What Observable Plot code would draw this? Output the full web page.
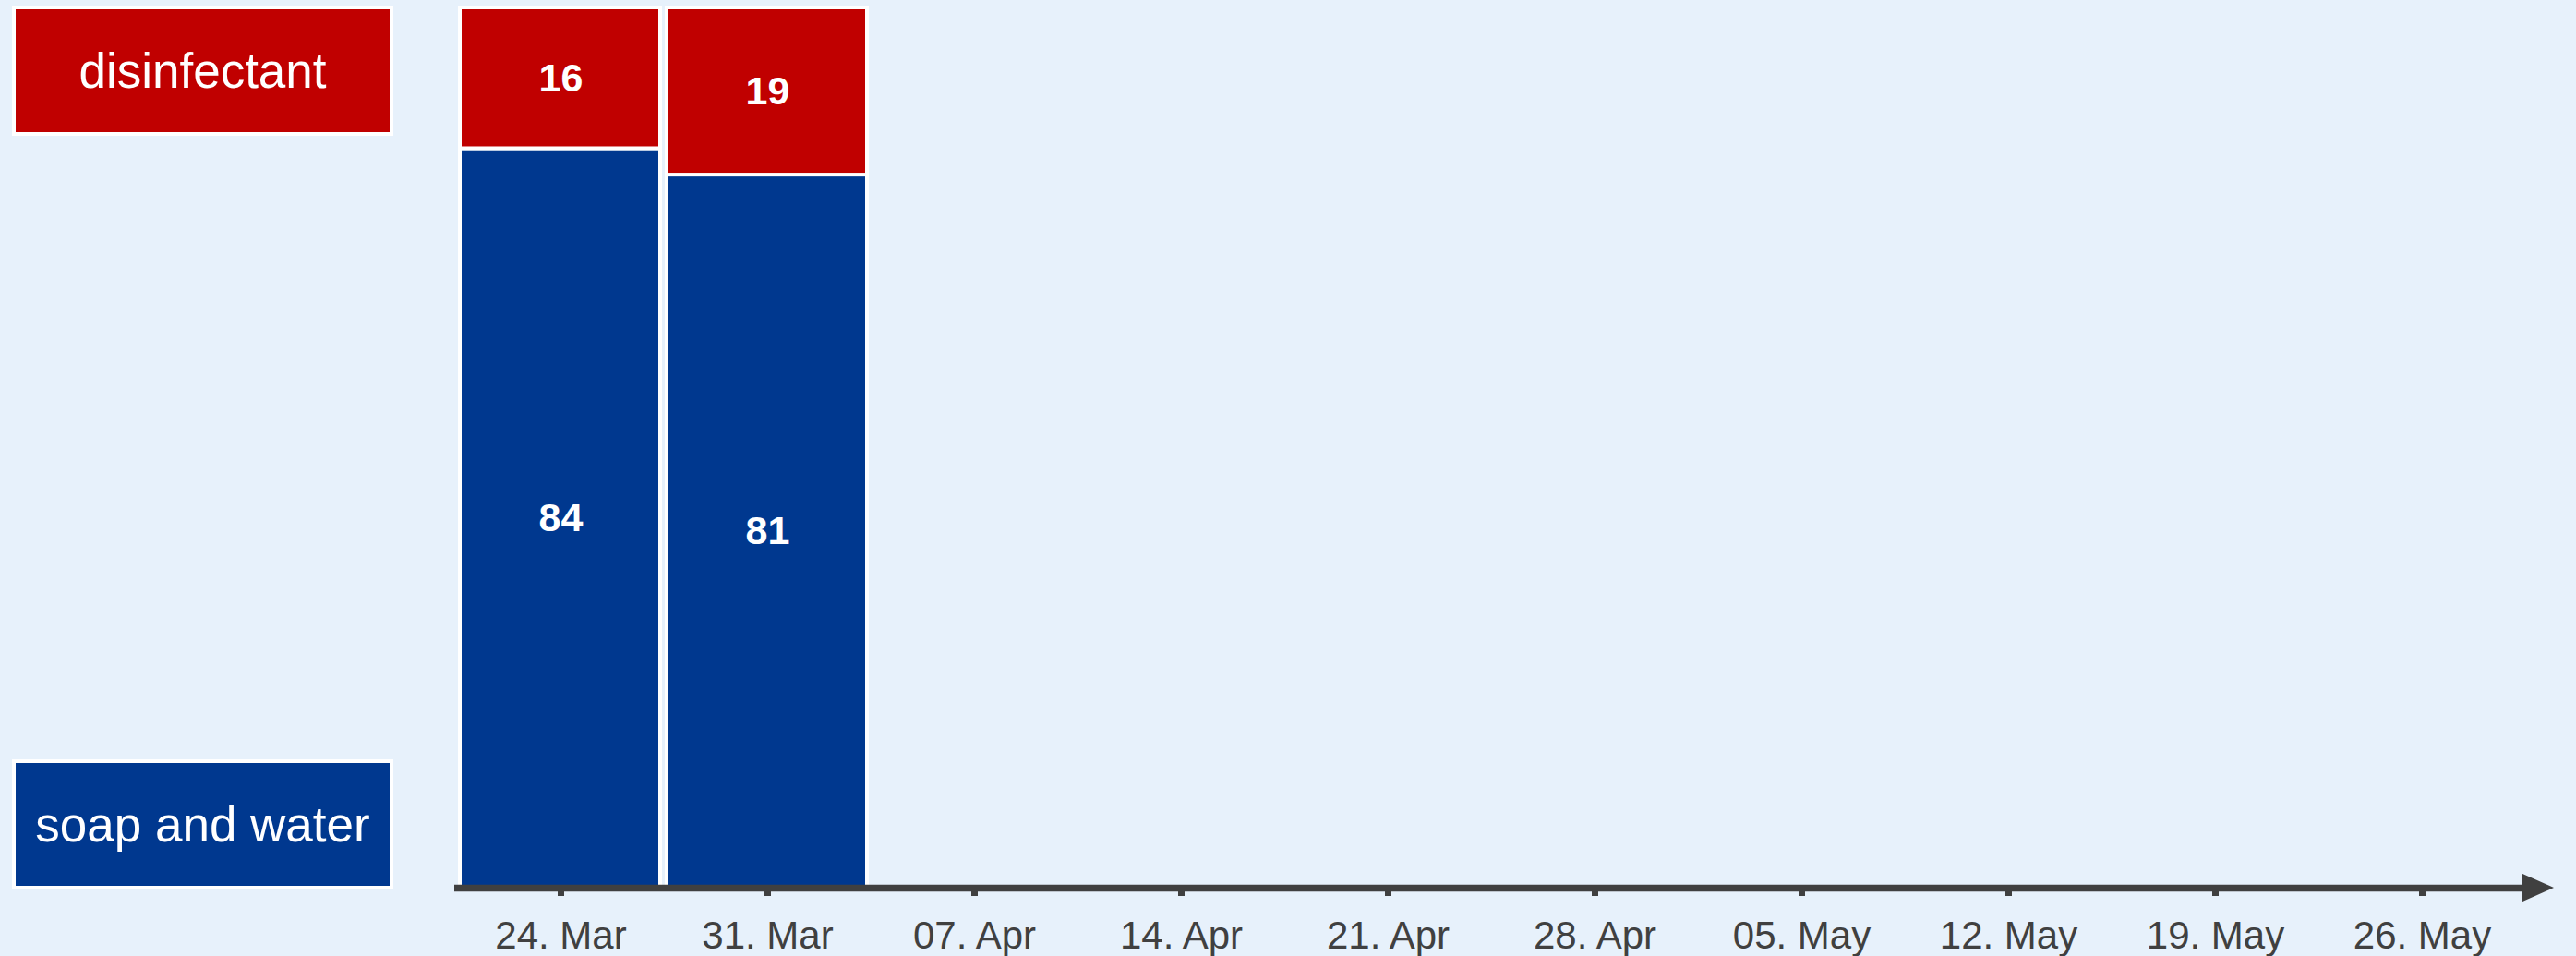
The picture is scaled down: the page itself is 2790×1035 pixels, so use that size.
<!DOCTYPE html>
<html>
<head>
<meta charset="utf-8">
<script src="https://cdn.jsdelivr.net/npm/d3@7"></script>
<script src="https://cdn.jsdelivr.net/npm/@observablehq/plot@0.6"></script>
<style>
  html, body { margin: 0; padding: 0; background: #E7F1FB; }
  body { width: 2790px; height: 1035px; position: relative; overflow: hidden;
         font-family: "Liberation Sans", Arial, Helvetica, sans-serif; }
  #chart { position: absolute; left: 0; top: 0; }
  .legend-box { position: absolute; left: 13px; width: 405px; height: 133px;
                border: 4px solid #ffffff; color: #ffffff; font-size: 53px;
                display: flex; align-items: center; justify-content: center; }
</style>
</head>
<body>
<div id="chart"></div>
<div class="legend-box" id="leg-dis" style="top:6px;background:#C00000;">disinfectant</div>
<div class="legend-box" id="leg-soap" style="top:822px;background:#00388F;">soap and water</div>
<script>
// ---- data ----
const weeks = ["24. Mar", "31. Mar", "07. Apr", "14. Apr", "21. Apr",
               "28. Apr", "05. May", "12. May", "19. May", "26. May"];
const seriesNames = ["soap and water", "disinfectant"];
const soapAndWater = [84, 81];
const disinfectant = [16, 19];
const seriesColors = ["#00388F", "#C00000"];

const rows = [];
soapAndWater.forEach((v, i) => rows.push({week: weeks[i], type: seriesNames[0], value: v}));
disinfectant.forEach((v, i) => rows.push({week: weeks[i], type: seriesNames[1], value: v}));

const W = 2790, H = 1035;
const axisColor = "#404040";
const mRight = 53;

const plot = Plot.plot({
  width: W,
  height: H,
  marginLeft: 492,
  marginRight: mRight,
  marginTop: 8,
  marginBottom: 74,
  style: {background: "transparent", fontFamily: "'Liberation Sans', Arial, Helvetica, sans-serif"},
  x: {type: "band", domain: weeks, padding: 0},
  y: {domain: [0, 100], axis: null},
  color: {domain: seriesNames, range: seriesColors},
  marks: [
    Plot.barY(rows, Plot.stackY({
      x: "week", y: "value", fill: "type",
      stroke: "white", strokeWidth: 4, insetLeft: 3, insetRight: 4
    })),
    Plot.text(rows, Plot.stackY({
      x: "week", y: "value", z: "type", text: d => String(d.value),
      fill: "white", fontWeight: "bold", fontSize: 43
    })),
    Plot.ruleY([0], {stroke: axisColor, strokeWidth: 7.5}),
    Plot.axisX({
      tickSize: 9, tickPadding: 27, stroke: axisColor, strokeWidth: 7,
      fill: axisColor, fontSize: 42, label: null
    })
  ]
});

document.getElementById("chart").appendChild(plot);

// arrow head at the end of the axis line
const ys = plot.scale("y");
const y0 = ys.apply(0);
const xEnd = W - mRight;
d3.select(plot).append("path")
  .attr("d", `M${xEnd - 6},${y0 - 15.5}L${xEnd + 29},${y0}L${xEnd - 6},${y0 + 15.5}Z`)
  .attr("fill", axisColor);
</script>
</body>
</html>
